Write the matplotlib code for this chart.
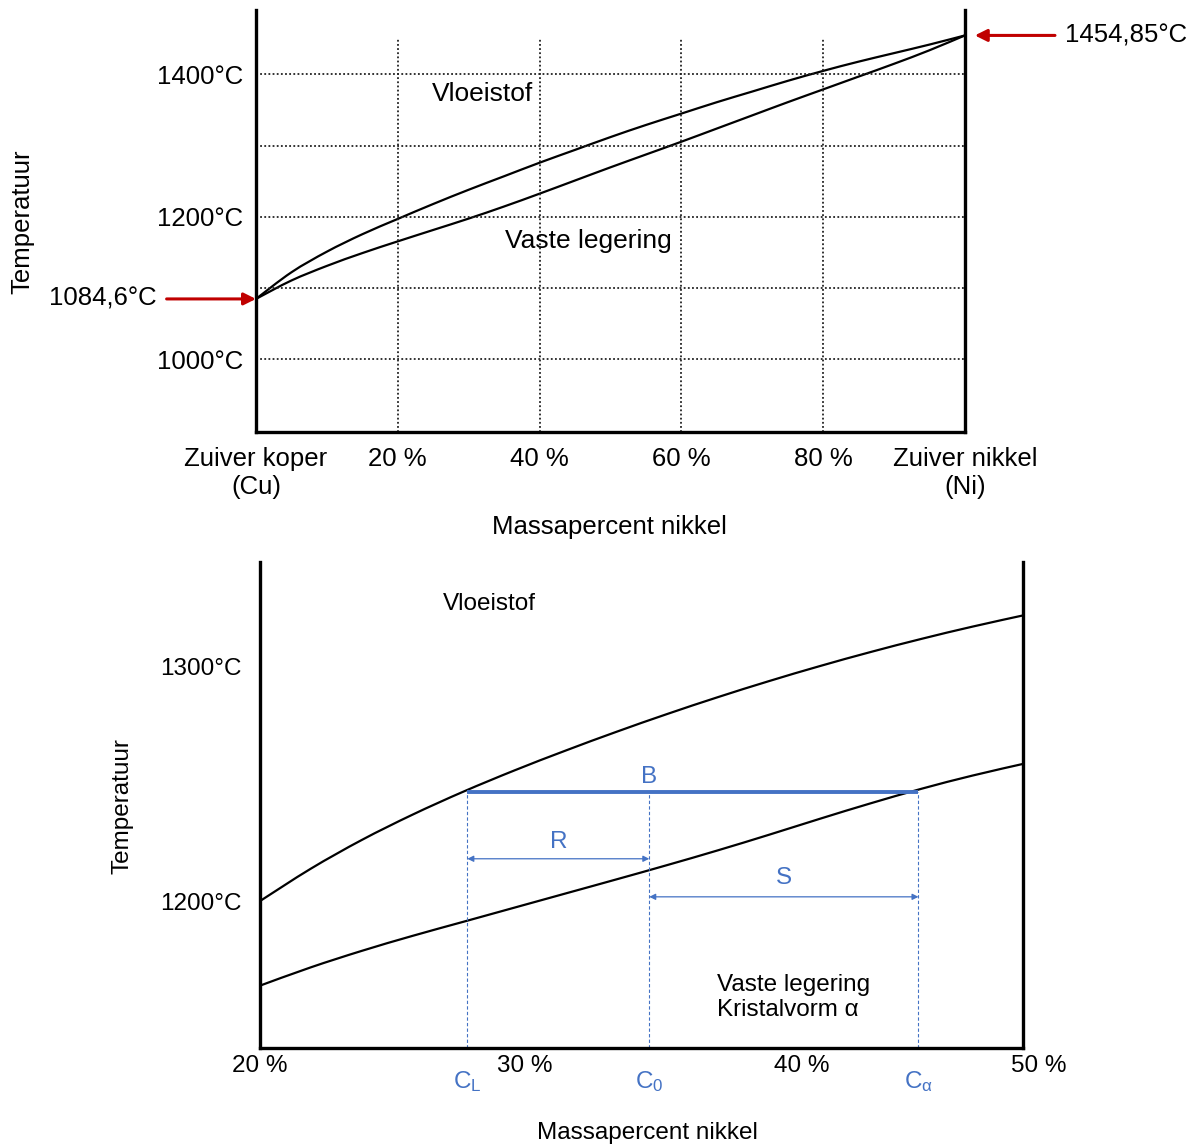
import matplotlib
matplotlib.use("Agg")
import matplotlib.pyplot as plt
from matplotlib.path import Path
from matplotlib.patches import PathPatch
from matplotlib.transforms import blended_transform_factory, ScaledTranslation

plt.rcParams['font.family'] = ['Liberation Sans', 'DejaVu Sans']
plt.rcParams['mathtext.fontset'] = 'custom'
plt.rcParams['mathtext.rm'] = 'Liberation Sans'
plt.rcParams['mathtext.it'] = 'Liberation Sans:italic'

# ---------------- data: full Cu-Ni diagram ----------------
full_x = [0, 5, 10, 15, 20, 25, 30, 35, 40, 45, 50, 55, 60, 65, 70, 75, 80, 85, 90, 95, 100]
full_liquidus = [1084.6, 1122, 1151, 1175.5, 1197, 1218, 1238, 1257, 1276, 1294, 1312,
                 1329, 1345, 1361, 1376, 1391, 1405, 1418, 1430, 1442, 1454.85]
full_solidus = [1084.6, 1110.5, 1131, 1149, 1165.5, 1181.5, 1197.5, 1214.5, 1232.5, 1251,
                1269.5, 1287.5, 1305.5, 1324, 1342.5, 1361, 1379, 1397, 1415, 1434, 1454.85]
full_xticks = [0, 20, 40, 60, 80, 100]
full_xticklabels = ['Zuiver koper\n(Cu)', '20 %', '40 %', '60 %', '80 %', 'Zuiver nikkel\n(Ni)']
full_ygrid = [1000, 1100, 1200, 1300, 1400]
full_yticks = [1000, 1200, 1400]
full_yticklabels = ['1000°C', '1200°C', '1400°C']
t_cu = 1084.6
t_ni = 1454.85

# ---------------- data: zoomed diagram (20-50 % Ni) ----------------
zoom_x = [20, 22, 24, 26, 28, 30, 32, 34, 36, 38, 40, 42, 44, 46, 48, 50]
zoom_liquidus = [1200, 1213.8, 1226, 1236.8, 1246.6, 1255.6, 1264, 1272, 1279.6, 1286.8,
                 1293.6, 1300, 1306, 1311.6, 1316.8, 1321.6]
zoom_solidus = [1164, 1171.8, 1178.8, 1185.2, 1191.2, 1197.2, 1203.2, 1209.2, 1215.3, 1221.6,
                1228.2, 1235, 1241.6, 1247.8, 1253.4, 1258.4]
zoom_xticks = [20, 30, 40, 50]
zoom_xticklabels = ['20 %', '30 %', '40 %', '50 %']
zoom_yticks = [1200, 1300]
zoom_yticklabels = ['1200°C', '1300°C']
c_L, c_0, c_alpha = 28.15, 35.3, 45.88
t_tie = 1246.6

BLUE = '#4472C4'
RED = '#C00000'
DOT = (0, (1, 1.3))


def smooth_line(ax, xs, ys, **kw):
    """Draw a smooth (Catmull-Rom / cubic Bezier) line through the given points."""
    pts = list(zip(xs, ys))
    verts = [pts[0]]
    codes = [Path.MOVETO]
    n = len(pts)
    for i in range(n - 1):
        p0 = pts[i - 1] if i > 0 else pts[i]
        p1 = pts[i]
        p2 = pts[i + 1]
        p3 = pts[i + 2] if i + 2 < n else pts[i + 1]
        c1 = (p1[0] + (p2[0] - p0[0]) / 6, p1[1] + (p2[1] - p0[1]) / 6)
        c2 = (p2[0] - (p3[0] - p1[0]) / 6, p2[1] - (p3[1] - p1[1]) / 6)
        verts += [c1, c2, p2]
        codes += [Path.CURVE4] * 3
    patch = PathPatch(Path(verts, codes), facecolor='none', transform=ax.transData, **kw)
    ax.add_patch(patch)
    return patch


fig = plt.figure(figsize=(11.96, 11.47), dpi=100)

# ================= top panel =================
ax1 = fig.add_axes([0.2140, 0.6234, 0.5928, 0.3679])
y1lo, y1hi = 897.7, 1490.6
ax1.set_xlim(0, 100)
ax1.set_ylim(y1lo, y1hi)
for s in ['left', 'right', 'bottom']:
    ax1.spines[s].set_linewidth(2.4)
ax1.spines['top'].set_visible(False)

ax1.hlines(full_ygrid, 0, 100, colors='#222222', linestyles=DOT, linewidth=1.3)
ax1.vlines(full_xticks[1:-1], y1lo, 1451, colors='#222222', linestyles=DOT, linewidth=1.3)

smooth_line(ax1, full_x, full_liquidus, edgecolor='black', lw=1.6)
smooth_line(ax1, full_x, full_solidus, edgecolor='black', lw=1.6)

ax1.set_xticks(full_xticks)
ax1.set_xticklabels(full_xticklabels, fontsize=18.5)
ax1.set_yticks(full_yticks)
ax1.set_yticklabels(full_yticklabels, fontsize=18.5)
ax1.tick_params(axis='both', length=0)
ax1.tick_params(axis='x', pad=11)
ax1.tick_params(axis='y', pad=9)

ax1.text(24.8, 1372, 'Vloeistof', fontsize=19, va='center', ha='left')
ax1.text(35.1, 1166, 'Vaste legering', fontsize=19, va='center', ha='left')

ax1.annotate('', xy=(0, t_cu), xytext=(-12.6, t_cu),
             arrowprops=dict(arrowstyle='-|>', color=RED, lw=2.2, mutation_scale=18,
                             shrinkA=0, shrinkB=0), annotation_clip=False)
ax1.text(-14.0, t_cu, '1084,6°C', fontsize=18.5, ha='right', va='center')
ax1.annotate('', xy=(101.4, t_ni), xytext=(112.7, t_ni),
             arrowprops=dict(arrowstyle='-|>', color=RED, lw=2.2, mutation_scale=18,
                             shrinkA=0, shrinkB=0), annotation_clip=False)
ax1.text(114.1, t_ni, '1454,85°C', fontsize=18.5, ha='left', va='center')

fig.text(22 / 1196, 1 - 222 / 1147, 'Temperatuur', rotation=90, fontsize=18.5,
         ha='center', va='center')
fig.text(609 / 1196, 1 - 527 / 1147, 'Massapercent nikkel', fontsize=18.5,
         ha='center', va='center')

# ================= bottom panel =================
ax2 = fig.add_axes([0.2174, 0.0863, 0.6382, 0.4237])
y2lo, y2hi = 1137.45, 1344.3
ax2.set_xlim(20, 50)
ax2.set_ylim(y2lo, y2hi)
for s in ['left', 'right', 'bottom']:
    ax2.spines[s].set_linewidth(2.4)
ax2.spines['top'].set_visible(False)

smooth_line(ax2, zoom_x, zoom_liquidus, edgecolor='black', lw=1.6)
smooth_line(ax2, zoom_x, zoom_solidus, edgecolor='black', lw=1.6)

ax2.vlines([c_L, c_0, c_alpha], y2lo, t_tie, colors=BLUE, linestyles=(0, (3, 2)), linewidth=0.8)
ax2.plot([c_L, c_alpha], [t_tie, t_tie], color=BLUE, lw=2.8, solid_capstyle='butt')
ax2.text(c_0, 1252.9, 'B', color=BLUE, fontsize=17.5, ha='center', va='center')

t_R = 1218.0
t_S = 1201.8
ax2.annotate('', xy=(c_0, t_R), xytext=(c_L, t_R),
             arrowprops=dict(arrowstyle='<|-|>', color=BLUE, lw=0.9, mutation_scale=9,
                             shrinkA=0, shrinkB=0))
ax2.text((c_L + c_0) / 2, 1225.2, 'R', color=BLUE, fontsize=17.5, ha='center', va='center')
ax2.annotate('', xy=(c_alpha, t_S), xytext=(c_0, t_S),
             arrowprops=dict(arrowstyle='<|-|>', color=BLUE, lw=0.9, mutation_scale=9,
                             shrinkA=0, shrinkB=0))
ax2.text((c_0 + c_alpha) / 2, 1209.8, 'S', color=BLUE, fontsize=17.5, ha='center', va='center')

ax2.text(27.2, 1326.4, 'Vloeistof', fontsize=17.5, ha='left', va='center')
ax2.text(37.95, 1159, 'Vaste legering\nKristalvorm α', fontsize=17.5, ha='left', va='center',
         linespacing=1.2)

ax2.set_xticks(zoom_xticks)
ax2.set_xticklabels(zoom_xticklabels, fontsize=17.5)
ax2.set_yticks(zoom_yticks)
ax2.set_yticklabels(zoom_yticklabels, fontsize=17.5)
ax2.tick_params(axis='both', length=0)
ax2.tick_params(axis='x', pad=5)
ax2.tick_params(axis='y', pad=13)
# the reference places its percentage labels slightly right of the tick positions
for lab, dx in zip(ax2.get_xticklabels(), [0, 10, 33, 15]):
    lab.set_transform(lab.get_transform() + ScaledTranslation(dx / 100, 0, fig.dpi_scale_trans))

trans = blended_transform_factory(ax2.transData, ax2.transAxes)
for xv, lab in [(c_L, r'C$_\mathrm{L}$'), (c_0, r'C$_\mathrm{0}$'), (c_alpha, r'C$_\mathrm{α}$')]:
    ax2.text(xv, -0.068, lab, color=BLUE, fontsize=17.5, ha='center', va='center',
             transform=trans)

fig.text(123 / 1196, 1 - 806 / 1147, 'Temperatuur', rotation=90, fontsize=17.5,
         ha='center', va='center')
fig.text(647 / 1196, 1 - 1133 / 1147, 'Massapercent nikkel', fontsize=17.5,
         ha='center', va='center')

fig.savefig('out.png', dpi=100)
